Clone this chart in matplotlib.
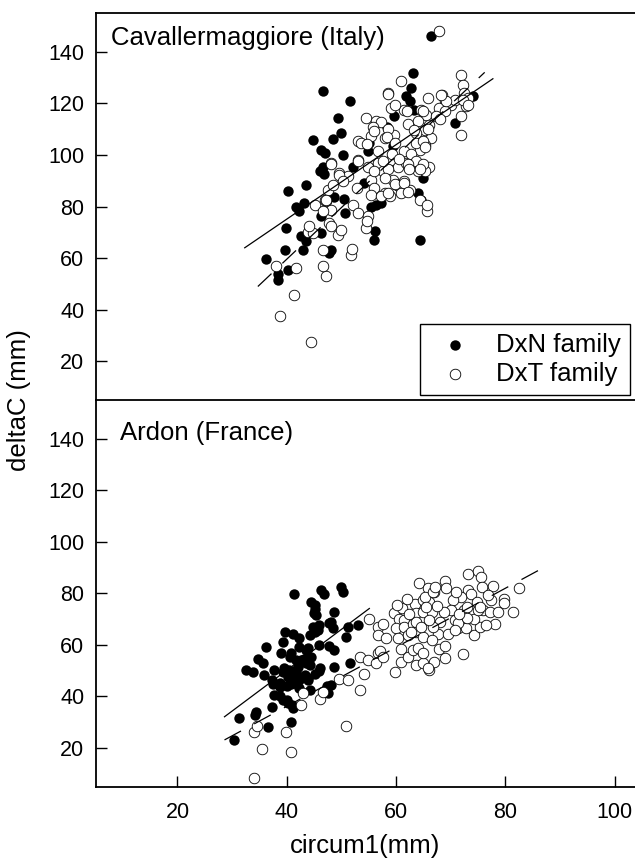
import numpy as np
import matplotlib.pyplot as plt

plt.rcParams['font.family'] = ['Liberation Sans', 'DejaVu Sans']

# --- Cavallermaggiore (Italy) ---
cav_dxn_x = [66.4, 63.1, 62.8, 61.8, 62.5, 63.3, 59.7, 58.4, 46.6, 51.5, 49.3, 50.0, 48.4, 44.8,
             46.3, 46.9, 50.3, 54.8, 55.1, 59.4, 46.6, 46.0, 46.8, 52.1, 54.2, 60.0, 43.5, 40.3,
             43.2, 41.7, 42.3, 46.3, 48.7, 50.4, 50.6, 55.4, 56.4, 57.3, 56.2, 56.0, 64.9, 64.0,
             64.5, 64.3, 74.0, 70.7, 39.9, 42.6, 43.5, 42.9, 46.3, 48.1, 47.8, 39.7, 36.2, 38.4,
             40.2, 38.3]
cav_dxn_y = [145.9, 131.7, 125.9, 122.7, 121.0, 117.5, 114.9, 111.0, 124.9, 120.7, 114.3, 108.5,
             106.0, 105.9, 102.0, 100.7, 100.1, 101.4, 104.6, 103.3, 95.5, 93.6, 92.6, 95.5, 89.1,
             88.4, 88.4, 85.9, 81.4, 80.0, 78.1, 76.2, 83.5, 83.0, 77.5, 80.0, 80.7, 81.4, 70.5,
             67.1, 91.0, 85.2, 82.6, 66.9, 122.9, 112.4, 71.7, 68.4, 66.5, 63.3, 69.7, 63.3, 62.0,
             63.3, 59.5, 54.0, 55.5, 51.5]

cav_dxt_x = [67.9, 71.9, 72.2, 72.5, 73.1, 72.8, 71.9, 71.9, 68.3, 68.9, 67.9, 70.1, 70.7, 65.8,
             64.6, 65.5, 66.1, 65.2, 63.7, 66.4, 65.2, 64.3, 63.7, 64.6, 66.1, 64.0, 65.2, 65.7,
             68.9, 67.3, 60.9, 58.5, 54.5, 56.3, 59.1, 61.5, 53.0, 55.4, 57.9, 59.7, 48.1, 49.6,
             51.2, 53.0, 54.8, 56.6, 57.6, 59.1, 60.3, 61.8, 55.4, 56.0, 57.9, 59.4, 60.6, 61.5,
             47.5, 47.2, 48.1, 49.3, 52.1, 53.0, 54.8, 54.5, 51.8, 50.0, 47.8, 47.2, 58.8, 60.9,
             62.5, 46.9, 45.1, 46.6, 43.8, 44.8, 46.6, 46.6, 38.1, 41.7, 41.4, 38.8, 44.5, 62.1,
             64.0, 61.9, 64.9, 59.8, 58.6, 57.2, 55.7, 56.0, 58.6, 65.9, 63.3, 58.4, 59.8, 64.9,
             65.3, 56.6, 59.2, 61.4, 62.7, 63.7, 64.9, 62.1, 64.3, 56.0, 58.6, 62.4, 53.5, 54.7,
             53.1, 57.6, 60.5, 48.0, 49.6, 48.4, 50.3, 52.8, 57.9, 59.8, 61.4, 62.1, 64.3, 55.4,
             57.2, 58.6, 47.1, 69.1, 68.2, 72.3, 73.1, 68.1, 51.9, 54.7, 48.0, 44.0, 65.6]
cav_dxt_y = [147.9, 131.1, 127.2, 124.0, 122.1, 118.8, 114.9, 107.8, 123.3, 120.7, 118.2, 119.5,
             121.4, 122.1, 117.5, 115.6, 111.7, 109.8, 108.5, 106.5, 104.0, 102.0, 104.6, 95.5,
             95.5, 93.6, 93.6, 78.1, 116.9, 114.9, 128.5, 124.0, 114.3, 113.0, 118.2, 117.5,
             105.2, 107.2, 106.6, 107.8, 96.9, 93.0, 91.7, 98.1, 95.5, 96.9, 93.6, 98.1, 95.5,
             96.9, 90.4, 87.2, 85.2, 90.4, 87.8, 89.7, 86.5, 82.0, 78.8, 69.1, 80.7, 77.5, 76.2,
             71.7, 61.3, 71.0, 73.6, 52.9, 83.9, 85.2, 86.5, 82.6, 80.7, 78.1, 70.3, 69.7, 63.3,
             56.8, 56.8, 56.2, 45.8, 37.4, 27.5, 112.0, 113.3, 117.2, 117.2, 119.2, 123.5, 112.6,
             111.0, 109.4, 110.0, 110.0, 109.6, 106.8, 104.5, 105.5, 102.9, 101.6, 100.3, 101.6,
             100.3, 97.7, 96.4, 96.4, 94.4, 93.7, 94.4, 94.4, 104.8, 104.4, 97.7, 97.7, 98.3,
             96.4, 92.4, 88.5, 89.8, 87.2, 91.1, 88.8, 89.2, 85.7, 82.7, 84.6, 84.0, 85.3, 82.7,
             120.8, 123.1, 121.1, 119.2, 113.9, 63.5, 74.5, 72.5, 72.5, 80.5]

# --- Ardon (France) ---
ard_dxn_x = [41.4, 46.3, 46.8, 50.0, 50.2, 44.5, 45.2, 45.1, 44.9, 45.4, 48.7, 48.0, 47.7, 48.4,
             51.2, 53.0, 50.9, 44.8, 45.8, 45.7, 45.2, 44.2, 42.3, 39.6, 41.1, 39.3, 36.2, 39.0,
             40.5, 40.7, 42.3, 43.5, 43.9, 45.8, 47.7, 48.7, 44.5, 41.7, 43.2, 42.6, 44.2, 43.6,
             34.7, 35.6, 32.6, 33.8, 35.9, 37.7, 39.3, 39.4, 40.4, 41.7, 42.0, 40.2, 41.1, 42.6,
             43.8, 45.1, 45.8, 46.1, 48.7, 51.5, 37.2, 37.4, 38.7, 38.8, 40.1, 41.4, 40.8, 42.3,
             43.3, 43.9, 42.3, 44.2, 47.4, 48.1, 47.5, 37.7, 38.8, 39.3, 40.1, 40.2, 41.0, 41.1,
             37.2, 34.4, 34.2, 31.3, 36.5, 40.8, 30.4]
ard_dxn_y = [79.9, 81.2, 79.8, 82.5, 80.5, 76.7, 75.5, 74.1, 72.5, 71.5, 72.8, 69.0, 68.4, 66.4,
             67.0, 67.6, 63.1, 67.0, 67.7, 65.7, 65.2, 63.8, 62.6, 65.0, 64.4, 61.2, 59.2, 56.7,
             55.3, 56.8, 59.2, 57.9, 58.7, 60.0, 59.6, 58.0, 55.5, 54.1, 54.7, 54.2, 52.1, 52.9,
             54.7, 52.8, 50.2, 49.5, 48.3, 50.2, 49.5, 51.0, 50.3, 50.3, 51.6, 47.6, 48.9, 47.6,
             46.3, 48.9, 49.7, 51.0, 51.6, 52.8, 46.5, 45.0, 43.7, 45.2, 43.9, 45.2, 45.0, 46.5,
             48.4, 47.1, 43.1, 42.4, 43.9, 44.4, 41.2, 40.5, 40.0, 38.6, 38.7, 37.3, 36.8, 35.4,
             36.1, 34.0, 32.8, 31.5, 28.2, 30.2, 23.1]

ard_dxt_x = [34.0, 35.4, 40.7, 34.0, 34.6, 39.9, 50.9, 42.6, 42.9, 46.0, 46.6, 49.6, 51.2, 53.3,
             54.2, 53.3, 54.8, 56.6, 56.3, 57.0, 57.6, 59.8, 60.8, 55.1, 56.6, 57.6, 56.6, 58.2,
             59.7, 60.6, 61.5, 60.0, 61.5, 63.1, 60.3, 62.1, 60.9, 62.1, 63.1, 63.6, 64.9, 64.2,
             63.4, 64.9, 63.7, 64.9, 73.1, 75.0, 75.6, 82.5, 81.4, 77.8, 79.7, 79.8, 78.1, 74.3,
             72.3, 68.9, 69.2, 67.0, 66.1, 65.8, 66.1, 67.0, 68.9, 67.9, 67.6, 69.5, 71.3, 72.8,
             75.3, 76.5, 75.9, 77.1, 78.6, 77.4, 73.1, 73.7, 71.9, 72.5, 70.4, 70.1, 70.7, 74.3,
             74.9, 65.3, 66.8, 67.2, 63.7, 66.5, 63.7, 64.9, 66.5, 64.0, 64.9, 65.9, 69.0, 68.1,
             68.7, 70.9, 71.3, 72.9, 74.8, 75.4, 71.5, 72.9, 75.8, 76.8, 66.8, 62.7, 64.6, 70.7,
             61.0, 62.3, 66.0, 67.5, 65.5, 62.0, 60.2]
ard_dxt_y = [8.2, 19.5, 18.5, 26.3, 28.5, 26.3, 28.5, 36.6, 41.2, 39.2, 41.8, 46.6, 46.3, 42.4,
             48.9, 55.3, 54.1, 56.7, 52.8, 57.7, 55.5, 49.3, 53.5, 70.2, 67.0, 68.3, 63.8, 62.5,
             72.2, 70.2, 69.6, 66.4, 67.0, 68.3, 62.5, 63.8, 58.6, 55.3, 57.9, 52.1, 52.8, 84.2,
             76.0, 77.3, 72.2, 72.8, 87.4, 88.7, 86.4, 82.2, 72.6, 82.9, 77.7, 76.3, 68.0, 63.8,
             56.3, 84.7, 81.9, 80.5, 76.7, 81.9, 50.2, 53.4, 55.1, 58.6, 64.4, 64.4, 66.4, 66.4,
             67.0, 67.6, 73.4, 72.8, 72.8, 77.3, 81.2, 79.9, 78.6, 73.4, 77.3, 73.4, 69.6, 70.2,
             73.4, 78.7, 80.6, 82.6, 69.0, 72.9, 65.2, 63.2, 61.9, 58.7, 56.8, 51.0, 59.5, 69.0,
             72.9, 80.5, 68.4, 70.3, 76.8, 74.8, 72.0, 74.8, 82.6, 79.4, 67.1, 65.2, 67.1, 65.8,
             74.5, 71.8, 69.5, 75.0, 74.8, 77.8, 75.6]

# regression lines: x start, x end, intercept, slope
cav_fit_dxn = [32.3, 77.7, 17.4, 1.443]
cav_fit_dxt = [34.7, 76.2, -20.4, 2.0]
ard_fit_dxn = [28.6, 55.1, -13.2, 1.585]
ard_fit_dxt = [28.6, 87.2, -9.6, 1.145]

yticks = [20, 40, 60, 80, 100, 120, 140]
xticks = [20, 40, 60, 80, 100]

fig = plt.figure(figsize=(6.35, 8.61), dpi=100)
ax1 = fig.add_axes([0.1504, 0.5354, 0.8496, 0.4495])
ax2 = fig.add_axes([0.1504, 0.0863, 0.8496, 0.4491])


def draw_panel(ax, nx, ny, tx, ty, fit_n, fit_t):
    ax.scatter(nx, ny, s=56, c='black', linewidths=0, zorder=2, label='DxN family')
    ax.scatter(tx, ty, s=58, facecolors='white', edgecolors='black', linewidths=0.6,
               zorder=3, label='DxT family')
    xs = np.array(fit_n[:2])
    ax.plot(xs, fit_n[2] + fit_n[3] * xs, color='black', lw=0.9, zorder=4)
    xs = np.array(fit_t[:2])
    ax.plot(xs, fit_t[2] + fit_t[3] * xs, color='black', lw=0.9, dashes=(15, 12), zorder=4)
    ax.set_xlim(5, 103.7)
    ax.set_ylim(5, 155)
    ax.set_yticks(yticks)
    ax.spines['right'].set_visible(False)
    for s in ax.spines.values():
        s.set_linewidth(1.3)
    ax.tick_params(axis='y', direction='in', length=8, width=1, pad=8, labelsize=15.5)


draw_panel(ax1, cav_dxn_x, cav_dxn_y, cav_dxt_x, cav_dxt_y, cav_fit_dxn, cav_fit_dxt)
draw_panel(ax2, ard_dxn_x, ard_dxn_y, ard_dxt_x, ard_dxt_y, ard_fit_dxn, ard_fit_dxt)

ax1.spines['bottom'].set_visible(False)
ax1.tick_params(axis='x', bottom=False, labelbottom=False)
ax2.set_xticks(xticks)
ax2.tick_params(axis='x', direction='in', length=8, width=1, pad=11, labelsize=15.5)

ax1.text(0.0287, 0.917, 'Cavallermaggiore (Italy)', transform=ax1.transAxes,
         fontsize=18.5, va='baseline')
ax2.text(0.0445, 0.896, 'Ardon (France)', transform=ax2.transAxes,
         fontsize=18.5, va='baseline')

leg = ax1.legend(loc='lower right', frameon=True, fancybox=False, edgecolor='black',
                 framealpha=1, fontsize=18.5, borderaxespad=0.2, handletextpad=0.6,
                 labelspacing=0.2, borderpad=0.35, scatterpoints=1)
leg.get_frame().set_linewidth(1.0)

ax2.set_xlabel('circum1(mm)', fontsize=18.5, labelpad=8)
ax2.set_ylabel('deltaC (mm)', fontsize=18.5)
ax2.yaxis.set_label_coords(-0.12, 1.0)

fig.savefig('out.png', dpi=100)
